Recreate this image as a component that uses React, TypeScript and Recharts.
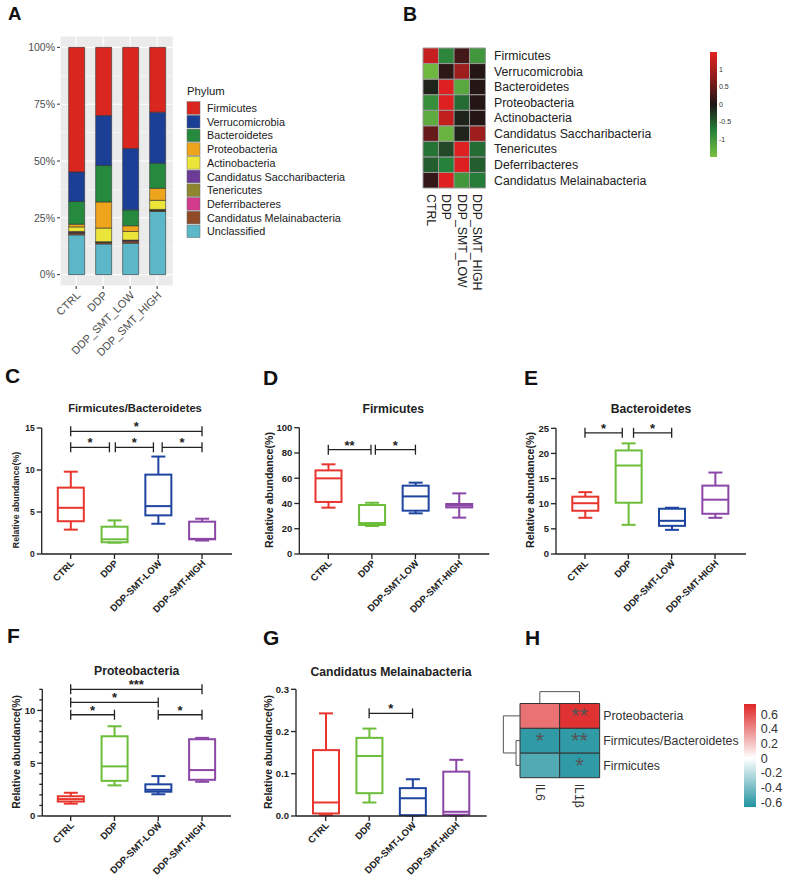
import React from 'react';
import {
  BarChart, Bar, XAxis, YAxis, CartesianGrid, Cell, ComposedChart, ReferenceLine, ReferenceDot,
} from 'recharts';

const FONT = '"Liberation Sans", Arial, Helvetica, sans-serif';

// ---------------- Panel A data ----------------
const groupsA = ['CTRL', 'DDP', 'DDP_SMT_LOW', 'DDP_SMT_HIGH'];
const phyla = ['Firmicutes', 'Verrucomicrobia', 'Bacteroidetes', 'Proteobacteria', 'Actinobacteria',
  'Candidatus Saccharibacteria', 'Tenericutes', 'Deferribacteres', 'Candidatus Melainabacteria', 'Unclassified'];
const phylumColors = ['#d9261f', '#1b3f95', '#258a3e', '#eea51d', '#ebe53a', '#6c3a97', '#8f8730', '#d33b8f', '#8f4c27', '#5cb8c8'];
const firmicutesA = [54.8, 30, 44.5, 28.5];
const verrucoA = [13, 22, 27, 22.5];
const bacteroidetesA = [10, 16, 7, 11];
const proteoA = [1.2, 11.5, 2.5, 5.3];
const actinoA = [2, 6, 3.8, 4];
const sacchA = [0.3, 0.1, 0.1, 0.1];
const teneriA = [0.2, 0.1, 0.2, 0.1];
const deferriA = [0.2, 0.1, 0.2, 0.1];
const melainaA = [0.8, 0.7, 0.9, 0.6];
const unclassA = [17.5, 13.5, 13.8, 27.8];
const seriesA = [firmicutesA, verrucoA, bacteroidetesA, proteoA, actinoA, sacchA, teneriA, deferriA, melainaA, unclassA];
const yTicksA = [0, 25, 50, 75, 100];
const yMinorA = [12.5, 37.5, 62.5, 87.5];

// ---------------- Panel B data ----------------
const heatRowsB = ['Firmicutes', 'Verrucomicrobia', 'Bacteroidetes', 'Proteobacteria', 'Actinobacteria',
  'Candidatus Saccharibacteria', 'Tenericutes', 'Deferribacteres', 'Candidatus Melainabacteria'];
const heatColsB = ['CTRL', 'DDP', 'DDP_SMT_LOW', 'DDP_SMT_HIGH'];
const zCTRL = [1.25, -1.4, -0.1, -0.9, -1.25, 0.5, -0.65, -0.5, 0.15];
const zDDP = [-0.8, 0.1, 1.45, 1.45, 1.2, -1.35, -0.35, -0.75, 1.45];
const zLOW = [0.25, 0.9, -1.2, -0.6, -0.1, -0.1, 1.45, 1.45, -1.0];
const zHIGH = [-1.0, 0.05, 0.05, 0.05, 0.05, 0.9, -0.6, -0.5, -0.7];
const zCols = [zCTRL, zDDP, zLOW, zHIGH];
const colorbarTicksB = [-1, -0.5, 0, 0.5, 1];

// ---------------- Box plot data: [min, q1, median, q3, max] ----------------
const boxGroups = ['CTRL', 'DDP', 'DDP-SMT-LOW', 'DDP-SMT-HIGH'];
const boxColors = ['#e8352e', '#6cbd3a', '#1f45a0', '#8b46a6'];
const ratioFB = [[2.9, 3.9, 5.5, 7.9, 9.8], [1.35, 1.4, 1.75, 3.25, 4.0], [3.6, 4.6, 5.7, 9.45, 11.6], [1.6, 1.75, 1.8, 3.85, 4.2]];
const firmicutesBox = [[36.7, 41.2, 59.9, 66.2, 71], [22.2, 23, 24.5, 38.8, 40.6], [32.2, 34.3, 45.6, 54.1, 56.5], [28.8, 36.9, 38.4, 39.6, 48]];
const bacteroidetesBox = [[7.2, 8.6, 10.1, 11.4, 12.3], [5.8, 10.2, 17.6, 20.6, 22.0], [4.8, 5.6, 6.6, 9.0, 9.2], [7.2, 8.0, 10.8, 13.6, 16.2]];
const proteoBox = [[1.17, 1.37, 1.6, 1.87, 2.2], [2.9, 3.33, 4.7, 7.55, 8.5], [2.06, 2.3, 2.48, 3.0, 3.78], [3.24, 3.43, 4.35, 7.27, 7.4]];
const melainaBox = [[0.002, 0.006, 0.032, 0.156, 0.243], [0.032, 0.054, 0.142, 0.185, 0.207], [0.001, 0.002, 0.042, 0.066, 0.087], [0.001, 0.003, 0.01, 0.105, 0.133]];

type Bracket = { from: number; to: number; y: number; label: string };
const bracketsC: Bracket[] = [
  { from: 0, to: 3, y: 14.6, label: '*' },
  { from: 0, to: 0.885, y: 12.7, label: '*' },
  { from: 1.02, to: 1.89, y: 12.7, label: '*' },
  { from: 2.09, to: 3, y: 12.7, label: '*' },
];
const bracketsD: Bracket[] = [
  { from: 0, to: 0.98, y: 82.6, label: '**' },
  { from: 1.08, to: 2, y: 82.6, label: '*' },
];
const bracketsE: Bracket[] = [
  { from: 0, to: 0.86, y: 24.1, label: '*' },
  { from: 1.12, to: 2, y: 24.1, label: '*' },
];
const bracketsF: Bracket[] = [
  { from: 0, to: 3, y: 12.0, label: '***' },
  { from: 0, to: 2, y: 10.76, label: '*' },
  { from: 0, to: 1, y: 9.59, label: '*' },
  { from: 2, to: 3, y: 9.59, label: '*' },
];
const bracketsG: Bracket[] = [{ from: 1, to: 2, y: 0.243, label: '*' }];

// ---------------- Panel H data ----------------
const rowsH = ['Firmicutes', 'Firmicutes/Bacteroidetes', 'Proteobacteria']; // bottom -> top
const colsH = ['IL6', 'IL1β'];
const corrIL6 = [-0.52, -0.62, 0.48];
const corrIL1b = [-0.62, -0.62, 0.7];
const sigIL6 = ['', '*', ''];
const sigIL1b = ['*', '**', '**'];
const colorbarTicksH = [-0.6, -0.4, -0.2, 0, 0.2, 0.4, 0.6];
// dendrogram segments in (column index, row) data units
const dendTopH: [number, number, number, number][] = [[0, 3.48, 1, 3.48], [0, 3, 0, 3.48], [1, 3, 1, 3.48]];
const dendLeftH: [number, number, number, number][] = [
  [-0.6, 1.5, -0.5, 1.5], [-0.6, 0.5, -0.5, 0.5], [-0.6, 0.5, -0.6, 1.5],
  [-0.92, 2.5, -0.5, 2.5], [-0.92, 1.0, -0.6, 1.0], [-0.92, 1.0, -0.92, 2.5],
];

// ---------------- helpers ----------------
const lerpC = (a: number[], b: number[], t: number) => a.map((v, i) => Math.round(v + (b[i] - v) * t));
const rgb = (c: number[]) => `rgb(${c[0]},${c[1]},${c[2]})`;
function scaleColor(stops: [number, number[]][], v: number) {
  if (v <= stops[0][0]) return rgb(stops[0][1]);
  for (let i = 1; i < stops.length; i++) {
    if (v <= stops[i][0]) {
      const t = (v - stops[i - 1][0]) / (stops[i][0] - stops[i - 1][0]);
      return rgb(lerpC(stops[i - 1][1], stops[i][1], t));
    }
  }
  return rgb(stops[stops.length - 1][1]);
}
const stopsB: [number, number[]][] = [[-1.5, [122, 193, 66]], [-0.75, [38, 130, 58]], [0, [30, 22, 22]], [0.75, [140, 28, 28]], [1.5, [228, 32, 32]]];
const stopsH: [number, number[]][] = [[-0.67, [32, 146, 160]], [0, [255, 255, 255]], [0.74, [222, 38, 38]]];

// ---------------- Panel A ----------------
const ATick = (props: any) => {
  const { x, y, payload } = props;
  const ax = x + 5, ay = y + 7;
  return (
    <text x={ax} y={ay} transform={`rotate(-45 ${ax} ${ay})`} textAnchor="end" fontSize={11} fill="#4d4d4d">
      {payload.value}
    </text>
  );
};

function PanelA() {
  const data = groupsA.map((g, gi) => {
    const o: any = { group: g };
    phyla.forEach((p, pi) => { o[p] = seriesA[pi][gi]; });
    return o;
  });
  const order = [...phyla].reverse();
  return (
    <div style={{ position: 'absolute', left: 0, top: 0 }}>
      <BarChart width={180} height={370} data={data} barSize={16}
        margin={{ top: 36, right: 6.7, bottom: 0, left: 10 }}>
        <CartesianGrid fill="#ebebeb" stroke="#ffffff" strokeWidth={1.1} />
        <CartesianGrid horizontalValues={yMinorA} vertical={false} stroke="#ffffff" strokeWidth={0.5} />
        <XAxis dataKey="group" interval={0} padding={{ left: 2.65, right: 2.65 }} axisLine={false}
          tickLine={{ stroke: '#333' }} tickSize={3} tickMargin={0} height={84} tick={<ATick />} />
        <YAxis type="number" domain={[-5, 105]} ticks={yTicksA} allowDataOverflow interval={0}
          tickFormatter={(v: number) => `${v}%`} width={50} axisLine={false} tickLine={{ stroke: '#333' }}
          tickSize={3} tickMargin={2} tick={{ fontSize: 10.5, fill: '#4d4d4d' }} />
        {order.map((p) => (
          <Bar key={p} dataKey={p} stackId="a" fill={phylumColors[phyla.indexOf(p)]} stroke="#333"
            strokeWidth={0.6} isAnimationActive={false} />
        ))}
      </BarChart>
    </div>
  );
}

// ---------------- Panel B ----------------
const VTick = (props: any) => {
  const { x, y, payload, fs, fill } = props;
  return (
    <text x={x} y={y} transform={`rotate(90 ${x} ${y})`} textAnchor="start" dominantBaseline="central"
      fontSize={fs} fill={fill}>{payload.value}</text>
  );
};

function PanelB() {
  const data = heatColsB.map((c) => {
    const o: any = { col: c };
    heatRowsB.forEach((_, ri) => { o['r' + ri] = 1; });
    return o;
  });
  const rowIdx = heatRowsB.map((_, i) => i).reverse();
  return (
    <div style={{ position: 'absolute', left: 400, top: 0 }}>
      <BarChart width={388} height={300} data={data} barCategoryGap={0} barGap={0}
        margin={{ top: 48, right: 103, bottom: 12, left: 23 }}>
        <XAxis dataKey="col" interval={0} axisLine={false} tickLine={false} tickSize={0} tickMargin={6}
          height={100} tick={<VTick fs={12.3} fill="#222" />} />
        <YAxis orientation="right" type="number" domain={[0, 9]} ticks={[0.5, 1.5, 2.5, 3.5, 4.5, 5.5, 6.5, 7.5, 8.5]}
          interval={0} tickFormatter={(v: number) => heatRowsB[8 - Math.floor(v)]} width={200}
          axisLine={false} tickLine={false} tickSize={0} tickMargin={9} tick={{ fontSize: 12.3, fill: '#222' }} />
        {rowIdx.map((ri) => (
          <Bar key={ri} dataKey={'r' + ri} stackId="h" stroke="#999" strokeWidth={1} isAnimationActive={false}>
            {heatColsB.map((c, ci) => <Cell key={c} fill={scaleColor(stopsB, zCols[ci][ri])} />)}
          </Bar>
        ))}
      </BarChart>
    </div>
  );
}

function ColorbarB() {
  const data = [{ k: 'c', v: [-1.5, 1.5] }];
  return (
    <div style={{ position: 'absolute', left: 700, top: 40 }}>
      <BarChart width={60} height={130} data={data} barCategoryGap={0}
        margin={{ top: 12, right: 13, bottom: 13, left: 10 }}>
        <defs>
          <linearGradient id="gradB" x1="0" y1="0" x2="0" y2="1">
            <stop offset="0" stopColor={scaleColor(stopsB, 1.5)} />
            <stop offset="0.25" stopColor={scaleColor(stopsB, 0.75)} />
            <stop offset="0.5" stopColor={scaleColor(stopsB, 0)} />
            <stop offset="0.75" stopColor={scaleColor(stopsB, -0.75)} />
            <stop offset="1" stopColor={scaleColor(stopsB, -1.5)} />
          </linearGradient>
        </defs>
        <XAxis dataKey="k" hide />
        <YAxis orientation="right" type="number" domain={[-1.5, 1.5]} ticks={colorbarTicksB} interval={0}
          width={30} axisLine={false} tickLine={false} tickSize={0} tickMargin={2}
          tick={{ fontSize: 7, fill: '#333' }} />
        <Bar dataKey="v" fill="url(#gradB)" isAnimationActive={false} />
      </BarChart>
    </div>
  );
}

// ---------------- Box plots ----------------
const BoxShape = (props: any) => {
  const { x, y, width, height, payload } = props;
  const [mn, q1, md, q3, mx] = payload.stats;
  const color = payload.color;
  const py = (v: number) => y + ((mx - v) / (mx - mn)) * height;
  const cx = x + width / 2;
  const capW = 14;
  return (
    <g stroke={color} strokeWidth={2} fill="none">
      <line x1={cx} x2={cx} y1={py(mx)} y2={py(q3)} />
      <line x1={cx} x2={cx} y1={py(q1)} y2={py(mn)} />
      <line x1={cx - capW / 2} x2={cx + capW / 2} y1={py(mx)} y2={py(mx)} />
      <line x1={cx - capW / 2} x2={cx + capW / 2} y1={py(mn)} y2={py(mn)} />
      <rect x={x + 1} y={py(q3)} width={width - 2} height={Math.max(py(q1) - py(q3), 0.5)} fill="#fff" />
      <line x1={x + 1} x2={x + width - 1} y1={py(md)} y2={py(md)} />
    </g>
  );
};

const makeBracket = (label: string) => (p: any) => {
  const { x1, y1, x2, y2 } = p;
  const h = 5;
  return (
    <g>
      <g stroke="#222" strokeWidth={1.3}>
        <line x1={x1} y1={y1} x2={x2} y2={y2} />
        <line x1={x1} x2={x1} y1={y1 - h} y2={y1 + h} />
        <line x1={x2} x2={x2} y1={y2 - h} y2={y2 + h} />
      </g>
      <text x={(x1 + x2) / 2} y={y1} textAnchor="middle" fontSize={13} fontWeight="bold" fill="#222">{label}</text>
    </g>
  );
};

const BoxXTick = (props: any) => {
  const { x, y, payload } = props;
  const ax = x + 4, ay = y + 5;
  return (
    <text x={ax} y={ay} transform={`rotate(-45 ${ax} ${ay})`} textAnchor="end" fontSize={9.5}
      fontWeight="bold" fill="#222">{payload.value}</text>
  );
};

const makeYTick = (major: number[], fmt: (v: number) => string, fs: number) => (props: any) => {
  const { x, y, payload } = props;
  const v = payload.value;
  const isMajor = major.some((m) => Math.abs(m - v) < 1e-9);
  const ax = x + 7;
  return (
    <g>
      <line x1={ax - (isMajor ? 5 : 3)} x2={ax} y1={y} y2={y} stroke="#222" strokeWidth={1.3} />
      {isMajor && (
        <text x={x} y={y} dy="0.35em" textAnchor="end" fontSize={fs} fontWeight="bold" fill="#222">{fmt(v)}</text>
      )}
    </g>
  );
};

type BoxCfg = {
  chartLeft: number; chartTop: number; chartW: number; chartH: number;
  axisX: number; plotRight: number; plotTop: number; plotBottom: number;
  padL: number; padR: number; domain: [number, number]; ticks: number[]; major: number[];
  fmt: (v: number) => string; tickFont: number; stats: number[][]; brackets: Bracket[];
};

function BoxPanel({ cfg }: { cfg: BoxCfg }) {
  const data = boxGroups.map((g, i) => ({
    name: g, idx: i, range: [cfg.stats[i][0], cfg.stats[i][4]], stats: cfg.stats[i], color: boxColors[i],
  }));
  const axisStyle = { stroke: '#222', strokeWidth: 1.3 };
  return (
    <div style={{ position: 'absolute', left: cfg.chartLeft, top: cfg.chartTop }}>
      <ComposedChart width={cfg.chartW} height={cfg.chartH} data={data}
        margin={{ top: cfg.plotTop - cfg.chartTop, right: cfg.chartLeft + cfg.chartW - cfg.plotRight, bottom: 0, left: 0 }}>
        <XAxis xAxisId="cat" dataKey="name" type="category" interval={0}
          padding={{ left: cfg.padL, right: cfg.padR }} height={cfg.chartTop + cfg.chartH - cfg.plotBottom}
          axisLine={axisStyle} tickLine={axisStyle} tickSize={5} tickMargin={0} tick={<BoxXTick />} />
        <XAxis xAxisId="num" dataKey="idx" type="number" domain={[-0.5, 3.5]} allowDataOverflow hide
          padding={{ left: cfg.padL, right: cfg.padR }} />
        <YAxis type="number" domain={cfg.domain} ticks={cfg.ticks} interval={0}
          width={cfg.axisX - cfg.chartLeft} axisLine={axisStyle} tickLine={false} tickSize={5} tickMargin={2}
          tick={makeYTick(cfg.major, cfg.fmt, cfg.tickFont)} />
        <Bar xAxisId="cat" dataKey="range" barSize={28} shape={BoxShape} isAnimationActive={false} />
        {cfg.brackets.map((b, i) => (
          <ReferenceLine key={i} xAxisId="num" ifOverflow="visible"
            segment={[{ x: b.from, y: b.y }, { x: b.to, y: b.y }]} shape={makeBracket(b.label)} />
        ))}
      </ComposedChart>
    </div>
  );
}

const intFmt = (v: number) => `${v}`;
const cfgC: BoxCfg = {
  chartLeft: 0, chartTop: 400, chartW: 240, chartH: 230, axisX: 41.7, plotRight: 232, plotTop: 428, plotBottom: 554,
  padL: 7.1, padR: 8.1, domain: [0, 15], ticks: [0, 5, 10, 15], major: [0, 5, 10, 15], fmt: intFmt, tickFont: 8.5,
  stats: ratioFB, brackets: bracketsC,
};
const cfgD: BoxCfg = {
  chartLeft: 258, chartTop: 400, chartW: 240, chartH: 230, axisX: 299.3, plotRight: 489.3, plotTop: 427.7, plotBottom: 554,
  padL: 7.2, padR: 8.5, domain: [0, 100], ticks: [0, 20, 40, 60, 80, 100], major: [0, 20, 40, 60, 80, 100], fmt: intFmt,
  tickFont: 9.5, stats: firmicutesBox, brackets: bracketsD,
};
const cfgE: BoxCfg = {
  chartLeft: 515, chartTop: 400, chartW: 240, chartH: 230, axisX: 556, plotRight: 746, plotTop: 428.3, plotBottom: 554,
  padL: 7.3, padR: 9.3, domain: [0, 25], ticks: [0, 5, 10, 15, 20, 25], major: [0, 5, 10, 15, 20, 25], fmt: intFmt,
  tickFont: 9.5, stats: bacteroidetesBox, brackets: bracketsE,
};
const cfgF: BoxCfg = {
  chartLeft: 0, chartTop: 660, chartW: 240, chartH: 224, axisX: 42.3, plotRight: 231, plotTop: 689.3, plotBottom: 816,
  padL: 6.5, padR: 7.1, domain: [0, 12], ticks: [0, 1, 2, 3, 4, 5, 6, 7, 8, 9, 10, 11, 12], major: [0, 5, 10], fmt: intFmt,
  tickFont: 9.5, stats: proteoBox, brackets: bracketsF,
};
const cfgG: BoxCfg = {
  chartLeft: 258, chartTop: 660, chartW: 240, chartH: 224, axisX: 296, plotRight: 486.7, plotTop: 689.3, plotBottom: 816,
  padL: 8, padR: 9, domain: [0, 0.3], ticks: [0, 0.1, 0.2, 0.3], major: [0, 0.1, 0.2, 0.3], fmt: (v) => v.toFixed(1),
  tickFont: 9.5, stats: melainaBox, brackets: bracketsG,
};

// ---------------- Panel H ----------------
const StarShape = (label: string) => (p: any) => (
  <text x={p.cx} y={p.cy + 7.6} textAnchor="middle" fontSize={22} fill="#555">{label}</text>
);

function PanelH() {
  const data = colsH.map((c, i) => ({ col: c, idx: i, r0: 1, r1: 1, r2: 1 }));
  const corr = [corrIL6, corrIL1b];
  const sig = [sigIL6, sigIL1b];
  const dend = [...dendTopH, ...dendLeftH];
  return (
    <div style={{ position: 'absolute', left: 480, top: 670 }}>
      <ComposedChart width={308} height={214} data={data} barCategoryGap={0} barGap={0}
        margin={{ top: 33.5, right: 8.7, bottom: 6.3, left: 40 }}>
        <XAxis xAxisId="cat" dataKey="col" type="category" interval={0} axisLine={false} tickLine={false}
          tickSize={0} tickMargin={6} height={100} tick={<VTick fs={12.3} fill="#333" />} />
        <XAxis xAxisId="num" dataKey="idx" type="number" domain={[-0.5, 1.5]} allowDataOverflow hide
          padding={{ left: 0, right: 0 }} />
        <YAxis orientation="right" type="number" domain={[0, 3]} ticks={[0.5, 1.5, 2.5]} interval={0}
          tickFormatter={(v: number) => rowsH[Math.floor(v)]} width={180} axisLine={false} tickLine={false}
          tickSize={0} tickMargin={4} tick={{ fontSize: 12.3, fill: '#333' }} />
        {rowsH.map((r, ri) => (
          <Bar key={r} xAxisId="cat" dataKey={'r' + ri} stackId="h" stroke="#333" strokeWidth={1} isAnimationActive={false}>
            {colsH.map((c, ci) => <Cell key={c} fill={scaleColor(stopsH, corr[ci][ri])} />)}
          </Bar>
        ))}
        {dend.map((d, i) => (
          <ReferenceLine key={'d' + i} xAxisId="num" ifOverflow="visible" stroke="#555" strokeWidth={1}
            segment={[{ x: d[0], y: d[1] }, { x: d[2], y: d[3] }]} />
        ))}
        {colsH.map((c, ci) => rowsH.map((r, ri) => sig[ci][ri] ? (
          <ReferenceDot key={c + r} xAxisId="num" x={ci} y={ri + 0.5} r={0} ifOverflow="visible"
            shape={StarShape(sig[ci][ri])} />
        ) : null))}
      </ComposedChart>
    </div>
  );
}

function ColorbarH() {
  const data = [{ k: 'c', v: [-0.67, 0.74] }];
  const zeroOff = 0.74 / (0.74 + 0.67);
  return (
    <div style={{ position: 'absolute', left: 730, top: 690 }}>
      <BarChart width={58} height={130} data={data} barCategoryGap={0}
        margin={{ top: 14, right: 4, bottom: 12.7, left: 14 }}>
        <defs>
          <linearGradient id="gradH" x1="0" y1="0" x2="0" y2="1">
            <stop offset="0" stopColor={scaleColor(stopsH, 0.74)} />
            <stop offset={zeroOff} stopColor={scaleColor(stopsH, 0)} />
            <stop offset="1" stopColor={scaleColor(stopsH, -0.67)} />
          </linearGradient>
        </defs>
        <XAxis dataKey="k" hide />
        <YAxis orientation="right" type="number" domain={[-0.67, 0.74]} ticks={colorbarTicksH} interval={0}
          allowDataOverflow tickFormatter={(v: number) => (v === 0 ? '0' : v.toFixed(1))} width={28}
          axisLine={false} tickLine={false} tickSize={0} tickMargin={4.7} tick={{ fontSize: 12.5, fill: '#333' }} />
        <Bar dataKey="v" fill="url(#gradH)" isAnimationActive={false} />
      </BarChart>
    </div>
  );
}

// ---------------- Overlay texts ----------------
const letters: [string, number, number, number][] = [
  ['A', 8, 20, 18.6], ['B', 403, 21, 19.5], ['C', 5, 383, 21], ['D', 263, 385, 21],
  ['E', 524, 385, 21], ['F', 7, 643, 21], ['G', 263, 645, 21], ['H', 525, 645, 21],
];
const titles: [string, number, number, number][] = [
  ['Firmicutes/Bacteroidetes', 135, 411.5, 11.2], ['Firmicutes', 393.3, 413, 12.2], ['Bacteroidetes', 651, 413, 12.2],
  ['Proteobacteria', 136.7, 675, 12.2], ['Candidatus Melainabacteria', 391, 675.5, 12.2],
];
const yLabels: [number, number, number][] = [[16, 500, 8.8], [268.7, 490, 10.6], [530, 490, 10.6], [16.2, 752, 10.4], [268.7, 752, 10.4]];

function Overlay() {
  return (
    <svg width={788} height={884} style={{ position: 'absolute', left: 0, top: 0, pointerEvents: 'none' }}>
      {letters.map(([t, x, y, fs]) => (
        <text key={t} x={x} y={y} fontSize={fs} fontWeight="bold" fill="#111">{t}</text>
      ))}
      {titles.map(([t, x, y, fs]) => (
        <text key={t} x={x} y={y} fontSize={fs} fontWeight="bold" fill="#222" textAnchor="middle">{t}</text>
      ))}
      {yLabels.map(([x, y, fs], i) => (
        <text key={i} x={x} y={y} fontSize={fs} fontWeight="bold" fill="#222" textAnchor="middle"
          dominantBaseline="central" transform={`rotate(-90 ${x} ${y})`}>Relative abundance(%)</text>
      ))}
      <text x={187} y={95} fontSize={11.3} fill="#1a1a1a">Phylum</text>
      {phyla.map((p, i) => (
        <g key={p}>
          <rect x={187} y={101.7 + i * 13.7} width={13} height={12.6} fill={phylumColors[i]} stroke="#666" strokeWidth={0.5} />
          <text x={207} y={108 + i * 13.7} fontSize={10.8} fill="#1a1a1a" dominantBaseline="central">{p}</text>
        </g>
      ))}
    </svg>
  );
}

export default function App() {
  return (
    <div style={{ position: 'absolute', left: 0, top: 0, width: 788, height: 884, background: '#fff', fontFamily: FONT, overflow: 'hidden' }}>
      <PanelA />
      <PanelB />
      <ColorbarB />
      <BoxPanel cfg={cfgC} />
      <BoxPanel cfg={cfgD} />
      <BoxPanel cfg={cfgE} />
      <BoxPanel cfg={cfgF} />
      <BoxPanel cfg={cfgG} />
      <PanelH />
      <ColorbarH />
      <Overlay />
    </div>
  );
}
